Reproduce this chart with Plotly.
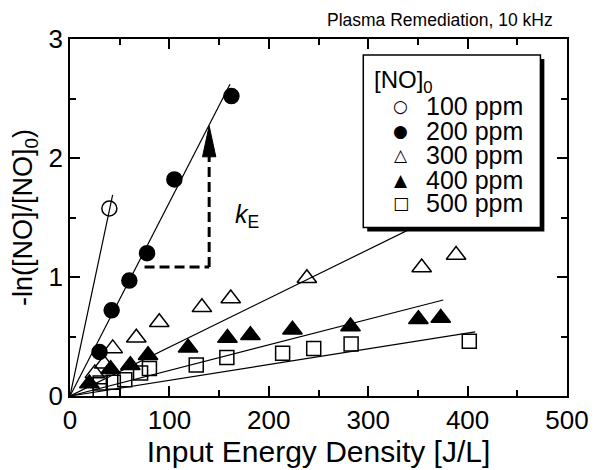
import plotly.graph_objects as go

# ---- data ----
ppm100_x = [39.6]
ppm100_y = [1.576]

ppm200_x = [29.7, 41.9, 59.7, 77.5, 105.0, 162.4]
ppm200_y = [0.37, 0.72, 0.97, 1.20, 1.82, 2.52]

ppm300_x = [25.0, 34.3, 43.0, 66.7, 89.8, 132.7, 161.7, 238.3, 353.8, 388.4]
ppm300_y = [0.19, 0.27, 0.40, 0.49, 0.62, 0.745, 0.82, 0.99, 1.08, 1.185]

ppm400_x = [19.5, 40.9, 60.7, 78.5, 118.8, 158.4, 181.5, 223.8, 282.2, 350.5, 373.0]
ppm400_y = [0.105, 0.225, 0.258, 0.342, 0.405, 0.487, 0.51, 0.557, 0.585, 0.645, 0.656]

ppm500_x = [30.4, 30.4, 43.6, 55.1, 71.0, 79.9, 127.0, 157.8, 213.9, 245.2, 282.8, 401.7]
ppm500_y = [0.045, 0.11, 0.115, 0.137, 0.193, 0.231, 0.26, 0.324, 0.36, 0.40, 0.436, 0.461]

# fitted lines (from origin to end point)
fit_x_end = [42.9, 161.0, 400.0, 375.5, 407.6]
fit_y_end = [1.69, 2.62, 1.64, 0.807, 0.539]

names = ["100 ppm", "200 ppm", "300 ppm", "400 ppm", "500 ppm"]
legend_glyphs = ["○", "●", "△", "▲", "□"]
xs = [ppm100_x, ppm200_x, ppm300_x, ppm400_x, ppm500_x]
ys = [ppm100_y, ppm200_y, ppm300_y, ppm400_y, ppm500_y]
symbols = ["circle-open", "circle", "triangle-up-open", "triangle-up", "square-open"]
sizes = [15, 15, 17, 17, 14]

FONT = "Liberation Sans, Arial, Helvetica, sans-serif"

fig = go.Figure()

# fit lines
for i in range(5):
    fig.add_trace(go.Scatter(
        x=[0, fit_x_end[i]], y=[0, fit_y_end[i]], mode="lines",
        line=dict(color="black", width=1.2), showlegend=False, hoverinfo="skip"))

# data points
for i in range(5):
    fig.add_trace(go.Scatter(
        x=xs[i], y=ys[i], mode="markers", name=names[i], showlegend=False,
        marker=dict(symbol=symbols[i], size=sizes[i], color="black",
                    line=dict(color="black", width=1.5))))

def px2x(p):
    return (p - 70) / 505.0

def px2y(p):
    return (397 - p) / 358.0

# legend box (shadow + frame)
fig.add_shape(type="rect", xref="paper", yref="paper",
              x0=px2x(372), x1=px2x(552), y0=px2y(232), y1=px2y(59),
              fillcolor="black", line=dict(width=0), layer="above")
fig.add_shape(type="rect", xref="paper", yref="paper",
              x0=px2x(368), x1=px2x(548), y0=px2y(228), y1=px2y(55),
              fillcolor="white", line=dict(color="black", width=1.5), layer="above")

# legend title and entries
fig.add_annotation(xref="paper", yref="paper", x=px2x(377), y=px2y(82),
                   xanchor="left", yanchor="middle", showarrow=False,
                   text="[NO]<sub>0</sub>",
                   font=dict(family=FONT, size=24, color="black"))
row_px = [106, 131, 155, 180, 203]
for i in range(5):
    fig.add_annotation(xref="paper", yref="paper", x=px2x(406), y=px2y(row_px[i]),
                       xanchor="center", yanchor="middle", showarrow=False,
                       text=legend_glyphs[i],
                       font=dict(family="DejaVu Sans", size=17, color="black"))
    fig.add_annotation(xref="paper", yref="paper", x=px2x(430), y=px2y(row_px[i]),
                       xanchor="left", yanchor="middle", showarrow=False,
                       text=names[i],
                       font=dict(family=FONT, size=25, color="black"))

# dashed slope guide
fig.add_shape(type="line", x0=75, y0=1.083, x1=140, y1=1.083,
              line=dict(color="black", width=3, dash="10px,5px"))
fig.add_shape(type="line", x0=140, y0=1.083, x1=140, y1=2.03,
              line=dict(color="black", width=3, dash="10px,5px"))
fig.add_shape(type="path", path="M 133.3 2.01 L 140 2.27 L 146.7 2.01 Z",
              fillcolor="black", line=dict(color="black", width=1))

fig.add_annotation(x=178, y=1.51, text="<i>k</i><sub>E</sub>", showarrow=False,
                   font=dict(family=FONT, size=25, color="black"))

fig.add_annotation(xref="paper", yref="paper", x=px2x(563), y=px2y(20),
                   xanchor="right", yanchor="middle", showarrow=False,
                   text="Plasma Remediation, 10 kHz",
                   font=dict(family=FONT, size=17.5, color="black"))

axis_common = dict(
    showline=True, linecolor="black", linewidth=1.5, mirror="ticks",
    ticks="inside", ticklen=10, tickwidth=1.5, tickcolor="black",
    showgrid=False, zeroline=False,
    tickfont=dict(family=FONT, size=26, color="black"),
)

fig.update_layout(
    width=601, height=470,
    margin=dict(l=70, r=26, t=39, b=73),
    paper_bgcolor="white", plot_bgcolor="white",
    font=dict(family=FONT, color="black"),
    xaxis=dict(range=[0, 500], dtick=100, tick0=0,
               minor=dict(ticks="inside", ticklen=6, dtick=50, tickwidth=1.5, tickcolor="black"),
               title=dict(text="Input Energy Density [J/L]", standoff=2,
                          font=dict(family=FONT, size=30, color="black")),
               **axis_common),
    yaxis=dict(range=[0, 3], dtick=1, tick0=0,
               minor=dict(ticks="inside", ticklen=6, dtick=0.5, tickwidth=1.5, tickcolor="black"),
               title=dict(text="-ln([NO]/[NO]<sub>0</sub>)", standoff=8,
                          font=dict(family=FONT, size=27, color="black")),
               **axis_common),
    showlegend=False,
)

fig.write_html("out.html")
